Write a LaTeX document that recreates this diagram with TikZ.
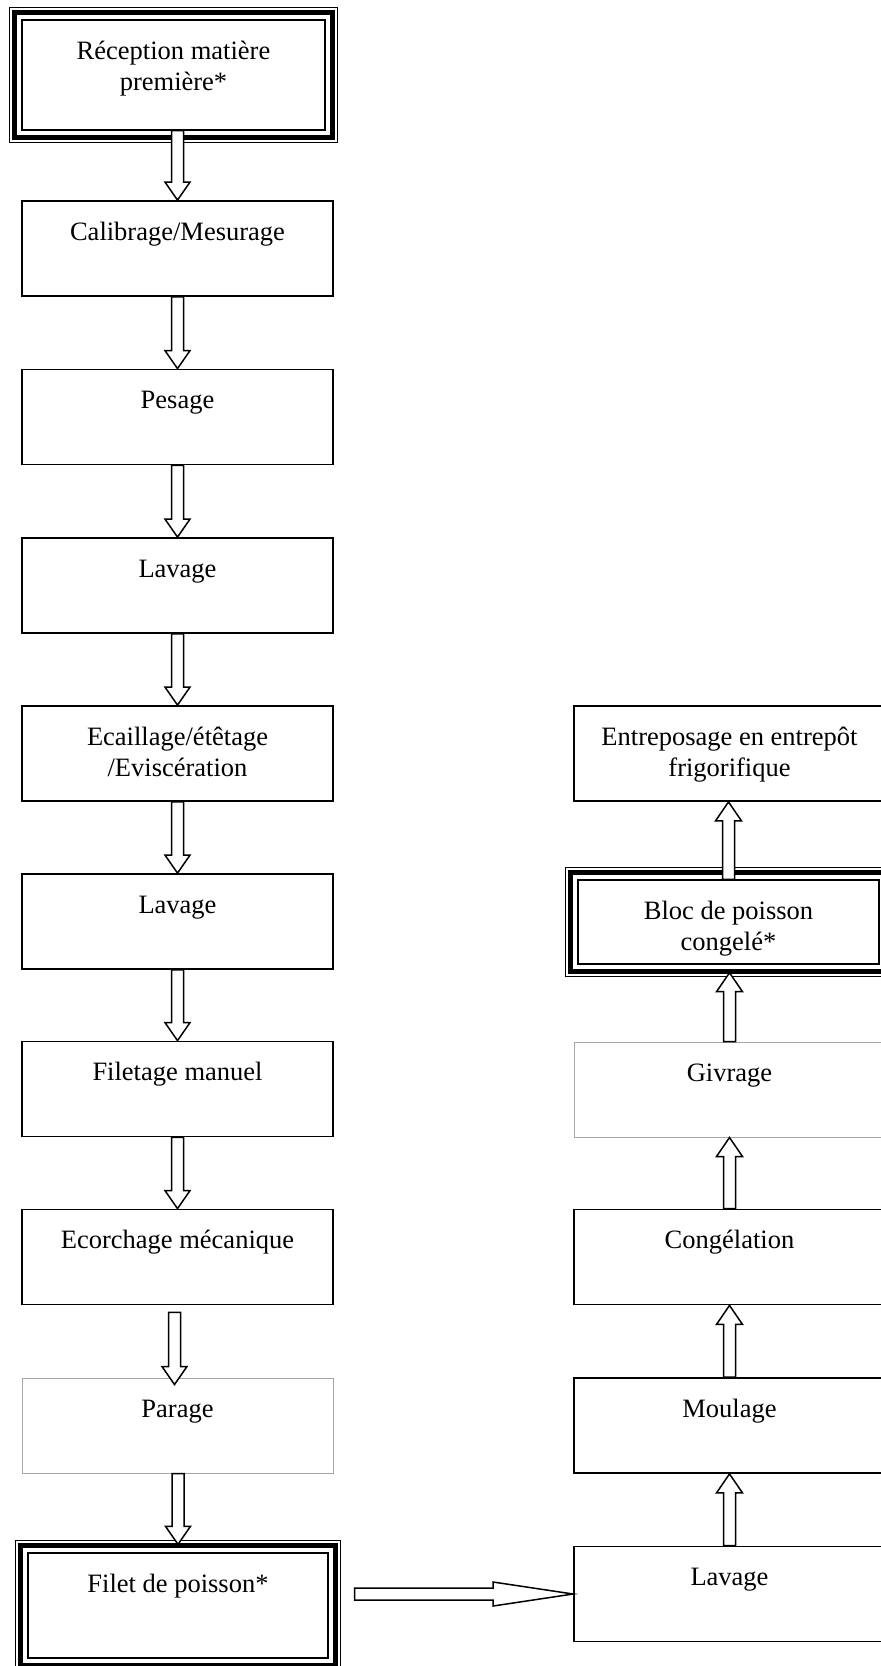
\documentclass[tikz,border=0pt]{standalone}
\usepackage{fontspec}
\setmainfont{Liberation Serif}
\usetikzlibrary{calc}
\newcommand\boxtxt[2]{\parbox[c][#1pt][t]{292pt}{\centering\vspace*{17.3pt}\strut #2}}
\newcommand\downblock[2]{\filldraw[blockarrow] let \p1=(#1), \p2=(#2) in
  (\x2-6pt,\y1) -- (\x2-6pt,\y2+18pt) -- (\x2-12.5pt,\y2+18pt) -- (\x2,\y2) --
  (\x2+12.5pt,\y2+18pt) -- (\x2+6pt,\y2+18pt) -- (\x2+6pt,\y1) -- cycle;}
\newcommand\upblock[2]{\filldraw[blockarrow] let \p1=(#1), \p2=(#2) in
  (\x1-6pt,\y1) -- (\x1-6pt,\y2-19pt) -- (\x1-13pt,\y2-19pt) -- (\x1,\y2) --
  (\x1+13pt,\y2-19pt) -- (\x1+6pt,\y2-19pt) -- (\x1+6pt,\y1) -- cycle;}
\newcommand\rblock[2]{\filldraw[blockarrow] let \p1=(#1), \p2=(#2) in
  (\x1+26pt,\y2+6pt) -- (\x2-80pt,\y2+6pt) -- (\x2-80pt,\y2+12pt) -- (\x2,\y2) --
  (\x2-80pt,\y2-12pt) -- (\x2-80pt,\y2-6pt) -- (\x1+26pt,\y2-6pt) -- cycle;}
\begin{document}
\begin{tikzpicture}[x=1pt,y=-1pt,
  stepbox/.style={draw=black, line width=1.8pt, inner sep=0pt, minimum width=311pt,
    minimum height=95pt, fill=white, font=\fontsize{26.5}{31}\selectfont},
  graybox/.style={stepbox, draw=gray!70, line width=1pt},
  thickframe/.style={line width=4.5pt},
  thinframe/.style={line width=1.4pt},
  blockarrow/.style={draw=black, fill=white, line width=1.5pt, line join=miter}]
\useasboundingbox (0,0) rectangle (881,1666);
\clip (0,0) rectangle (881,1666);
\fill[white] (0,0) rectangle (881,1666);

% left column
\node[stepbox, minimum width=303pt, minimum height=110pt, line width=1.4pt] (rec) at (173.5,75) {\boxtxt{110}{Réception matière\\première*}};
\node[stepbox] (cal) at (177.5,248.5) {\boxtxt{95}{Calibrage/Mesurage}};
\node[stepbox] (pes) at (177.5,417) {\boxtxt{95}{Pesage}};
\node[stepbox] (lav1) at (177.5,585.5) {\boxtxt{95}{Lavage}};
\node[stepbox] (eca) at (177.5,753.5) {\boxtxt{95}{Ecaillage/étêtage\\/Eviscération}};
\node[stepbox] (lav2) at (177.5,921.5) {\boxtxt{95}{Lavage}};
\node[stepbox] (fil) at (177.5,1089) {\boxtxt{95}{Filetage manuel}};
\node[stepbox] (eco) at (177.5,1257) {\boxtxt{95}{Ecorchage mécanique}};
\node[graybox] (par) at (177.5,1425.5) {\boxtxt{95}{Parage}};
\node[stepbox, minimum width=300pt, minimum height=105pt, line width=1.4pt] (filet) at (178,1605.5) {\boxtxt{105}{Filet de poisson*}};

% right column
\node[stepbox] (ent) at (729.5,753.5) {\boxtxt{95}{Entreposage en entrepôt\\frigorifique}};
\node[stepbox, minimum width=301pt, minimum height=84pt, line width=1.4pt] (bloc) at (728.5,922) {\boxtxt{84}{Bloc de poisson\\congelé*}};
\node[graybox] (giv) at (729.5,1089.5) {\boxtxt{95}{Givrage}};
\node[stepbox] (con) at (729.5,1257) {\boxtxt{95}{Congélation}};
\node[stepbox] (mou) at (729.5,1425.5) {\boxtxt{95}{Moulage}};
\node[stepbox] (lav3) at (729.5,1594) {\boxtxt{95}{Lavage}};

% triple frames
\foreach \n in {rec,filet,bloc}{
  \draw[thickframe] ($(\n.north west)+(-7,-7)$) rectangle ($(\n.south east)+(7,7)$);
  \draw[thinframe] ($(\n.north west)+(-12,-12)$) rectangle ($(\n.south east)+(12,12)$);
}

% arrows
\downblock{rec.south}{cal.north}
\downblock{cal.south}{pes.north}
\downblock{pes.south}{lav1.north}
\downblock{lav1.south}{eca.north}
\downblock{eca.south}{lav2.north}
\downblock{lav2.south}{fil.north}
\downblock{fil.south}{eco.north}
\downblock{$(eco.south)+(-3,7)$}{$(par.north)+(-3,7)$}
\downblock{par.south}{$(filet.north)+(0,-8)$}
\rblock{filet.east}{lav3.west}
\upblock{lav3.north}{mou.south}
\upblock{mou.north}{con.south}
\upblock{con.north}{giv.south}
\upblock{giv.north}{$(bloc.south)+(0,8)$}
\upblock{bloc.north}{ent.south}
\end{tikzpicture}
\end{document}
